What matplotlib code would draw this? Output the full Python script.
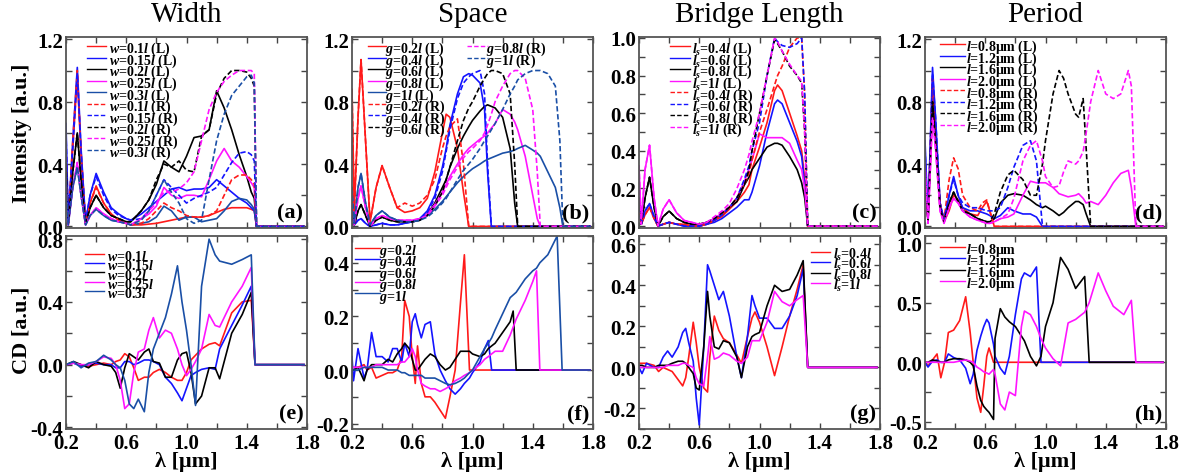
import matplotlib
matplotlib.use('Agg')
import matplotlib.pyplot as plt
from matplotlib.ticker import MultipleLocator, FixedLocator, FormatStrFormatter

plt.rcParams['font.family'] = 'Liberation Serif'
plt.rcParams['font.weight'] = 'bold'
plt.rcParams['mathtext.fontset'] = 'custom'
plt.rcParams['mathtext.it'] = 'Liberation Serif:italic:bold'
plt.rcParams['mathtext.rm'] = 'Liberation Serif:bold'
plt.rcParams['mathtext.bf'] = 'Liberation Serif:bold'
plt.rcParams['axes.unicode_minus'] = False

# ---------------- (a) Width, intensity ----------------
a_x = [0.2, 0.215, 0.245, 0.275, 0.3, 0.33, 0.36, 0.40, 0.45, 0.5,
       0.55, 0.6, 0.63, 0.7, 0.75, 0.8, 0.85, 0.9, 0.95, 1.0,
       1.05, 1.1, 1.15, 1.2, 1.25, 1.3, 1.35, 1.4, 1.43, 1.45,
       1.465, 1.78]
a_w01_L = [0.35, 0.02, 0.50, 0.97, 0.45, 0.02, 0.15, 0.26, 0.15, 0.08,
           0.04, 0.02, 0.01, 0.01, 0.015, 0.02, 0.03, 0.04, 0.05, 0.06,
           0.06, 0.06, 0.07, 0.09, 0.11, 0.12, 0.12, 0.12, 0.11, 0.10,
           0.00, 0.00]
a_w015_L = [0.66, 0.03, 0.55, 1.02, 0.50, 0.03, 0.20, 0.34, 0.22, 0.12,
            0.08, 0.05, 0.04, 0.08, 0.12, 0.16, 0.20, 0.24, 0.25, 0.23,
            0.24, 0.24, 0.25, 0.30, 0.26, 0.22, 0.18, 0.15, 0.12, 0.10,
            0.00, 0.00]
a_w02_L = [0.40, 0.02, 0.35, 0.60, 0.30, 0.02, 0.12, 0.20, 0.12, 0.07,
           0.05, 0.03, 0.03, 0.10, 0.17, 0.27, 0.42, 0.38, 0.35, 0.45,
           0.57, 0.58, 0.62, 0.87, 0.76, 0.62, 0.46, 0.32, 0.22, 0.18,
           0.00, 0.00]
a_w025_L = [0.30, 0.01, 0.25, 0.41, 0.20, 0.01, 0.07, 0.12, 0.08, 0.05,
            0.03, 0.02, 0.01, 0.05, 0.08, 0.13, 0.25, 0.20, 0.18, 0.20,
            0.20, 0.19, 0.30, 0.42, 0.50, 0.42, 0.38, 0.32, 0.28, 0.25,
            0.00, 0.00]
a_w03_L = [0.30, 0.01, 0.25, 0.38, 0.20, 0.01, 0.07, 0.11, 0.07, 0.04,
           0.03, 0.02, 0.01, 0.02, 0.03, 0.06, 0.13, 0.10, 0.04, 0.06,
           0.06, 0.03, 0.04, 0.05, 0.10, 0.16, 0.18, 0.17, 0.14, 0.11,
           0.00, 0.00]
a_w01_R = [0.50, 0.02, 0.55, 1.00, 0.48, 0.02, 0.15, 0.25, 0.15, 0.08,
           0.04, 0.02, 0.01, 0.02, 0.05, 0.10, 0.15, 0.12, 0.10, 0.07,
           0.06, 0.06, 0.07, 0.10, 0.20, 0.30, 0.33, 0.33, 0.30, 0.27,
           0.00, 0.00]
a_w015_R = [0.60, 0.03, 0.50, 0.98, 0.48, 0.03, 0.20, 0.32, 0.20, 0.11,
            0.07, 0.05, 0.04, 0.05, 0.10, 0.20, 0.30, 0.25, 0.20, 0.15,
            0.18, 0.20, 0.22, 0.25, 0.33, 0.41, 0.47, 0.48, 0.46, 0.42,
            0.00, 0.00]
a_w02_R = [0.40, 0.02, 0.35, 0.60, 0.30, 0.02, 0.12, 0.20, 0.12, 0.07,
           0.05, 0.03, 0.03, 0.10, 0.17, 0.30, 0.40, 0.38, 0.42, 0.36,
           0.35, 0.58, 0.62, 0.85, 0.95, 1.00, 1.00, 0.99, 0.95, 0.90,
           0.00, 0.00]
a_w025_R = [0.30, 0.01, 0.25, 0.41, 0.20, 0.01, 0.07, 0.12, 0.08, 0.05,
            0.03, 0.02, 0.01, 0.05, 0.10, 0.15, 0.22, 0.22, 0.24, 0.28,
            0.35, 0.55, 0.75, 0.86, 0.93, 0.97, 1.00, 1.00, 1.00, 0.98,
            0.00, 0.00]
a_w03_R = [0.30, 0.01, 0.25, 0.38, 0.20, 0.01, 0.07, 0.11, 0.07, 0.04,
           0.03, 0.02, 0.01, 0.04, 0.10, 0.20, 0.30, 0.22, 0.15, 0.05,
           0.02, 0.04, 0.30, 0.55, 0.72, 0.84, 0.90, 0.96, 0.97, 0.92,
           0.00, 0.00]

# ---------------- (b) Space, intensity ----------------
b_x = [0.2, 0.215, 0.24, 0.26, 0.29, 0.32, 0.36, 0.4, 0.45, 0.5,
       0.55, 0.6, 0.65, 0.7, 0.75, 0.8, 0.825, 0.85, 0.9, 0.94,
       0.975, 1.0, 1.05, 1.08, 1.1, 1.125, 1.15, 1.2, 1.25, 1.28,
       1.3, 1.35, 1.4, 1.43, 1.45, 1.5, 1.55, 1.58, 1.6, 1.78]
b_g02_L = [0.88, 0.10, 0.70, 1.07, 0.55, 0.03, 0.25, 0.39, 0.25, 0.12,
           0.09, 0.10, 0.12, 0.18, 0.35, 0.60, 0.72, 0.70, 0.50, 0.22,
           0.00, 0.00, 0.00, 0.00, 0.00, 0.00, 0.00, 0.00, 0.00, 0.00,
           0.00, 0.00, 0.00, 0.00, 0.00, 0.00, 0.00, 0.00, 0.00, 0.00]
b_g04_L = [0.10, 0.01, 0.04, 0.05, 0.02, 0.00, 0.01, 0.02, 0.01, 0.01,
           0.02, 0.03, 0.05, 0.10, 0.20, 0.38, 0.50, 0.65, 0.85, 0.96,
           0.98, 0.97, 0.92, 0.75, 0.35, 0.00, 0.00, 0.00, 0.00, 0.00,
           0.00, 0.00, 0.00, 0.00, 0.00, 0.00, 0.00, 0.00, 0.00, 0.00]
b_g06_L = [0.10, 0.01, 0.10, 0.14, 0.07, 0.00, 0.04, 0.06, 0.04, 0.03,
           0.03, 0.03, 0.04, 0.08, 0.15, 0.25, 0.30, 0.38, 0.50, 0.58,
           0.64, 0.68, 0.74, 0.77, 0.78, 0.77, 0.76, 0.70, 0.50, 0.15,
           0.00, 0.00, 0.00, 0.00, 0.00, 0.00, 0.00, 0.00, 0.00, 0.00]
b_g08_L = [0.20, 0.01, 0.18, 0.26, 0.12, 0.00, 0.05, 0.07, 0.05, 0.04,
           0.04, 0.04, 0.05, 0.08, 0.14, 0.22, 0.27, 0.32, 0.40, 0.46,
           0.50, 0.52, 0.56, 0.58, 0.60, 0.63, 0.66, 0.75, 0.72, 0.67,
           0.62, 0.45, 0.20, 0.05, 0.00, 0.00, 0.00, 0.00, 0.00, 0.00]
b_g10_L = [0.25, 0.02, 0.25, 0.34, 0.15, 0.01, 0.07, 0.10, 0.06, 0.04,
           0.03, 0.03, 0.04, 0.07, 0.11, 0.16, 0.19, 0.22, 0.28, 0.32,
           0.35, 0.37, 0.40, 0.42, 0.43, 0.44, 0.45, 0.47, 0.48, 0.49,
           0.50, 0.52, 0.49, 0.47, 0.45, 0.35, 0.25, 0.12, 0.00, 0.00]
b_g02_R = [0.88, 0.10, 0.70, 1.07, 0.55, 0.03, 0.25, 0.39, 0.25, 0.12,
           0.15, 0.13, 0.15, 0.20, 0.30, 0.50, 0.58, 0.64, 0.69, 0.40,
           0.00, 0.00, 0.00, 0.00, 0.00, 0.00, 0.00, 0.00, 0.00, 0.00,
           0.00, 0.00, 0.00, 0.00, 0.00, 0.00, 0.00, 0.00, 0.00, 0.00]
b_g04_R = [0.10, 0.01, 0.04, 0.05, 0.02, 0.00, 0.01, 0.02, 0.01, 0.01,
           0.02, 0.03, 0.05, 0.09, 0.18, 0.35, 0.48, 0.62, 0.82, 0.92,
           0.96, 0.98, 1.00, 0.85, 0.40, 0.00, 0.00, 0.00, 0.00, 0.00,
           0.00, 0.00, 0.00, 0.00, 0.00, 0.00, 0.00, 0.00, 0.00, 0.00]
b_g06_R = [0.10, 0.01, 0.10, 0.14, 0.07, 0.00, 0.04, 0.06, 0.04, 0.03,
           0.03, 0.03, 0.04, 0.07, 0.13, 0.22, 0.30, 0.38, 0.55, 0.68,
           0.76, 0.80, 0.90, 0.95, 0.98, 1.00, 1.00, 0.98, 0.85, 0.40,
           0.00, 0.00, 0.00, 0.00, 0.00, 0.00, 0.00, 0.00, 0.00, 0.00]
b_g08_R = [0.20, 0.01, 0.18, 0.26, 0.12, 0.00, 0.05, 0.07, 0.05, 0.04,
           0.04, 0.04, 0.05, 0.07, 0.13, 0.20, 0.25, 0.30, 0.38, 0.44,
           0.48, 0.50, 0.55, 0.60, 0.65, 0.72, 0.80, 0.90, 0.98, 1.00,
           1.00, 0.95, 0.75, 0.35, 0.00, 0.00, 0.00, 0.00, 0.00, 0.00]
b_g10_R = [0.25, 0.02, 0.25, 0.34, 0.15, 0.01, 0.07, 0.10, 0.06, 0.04,
           0.03, 0.03, 0.04, 0.06, 0.10, 0.15, 0.18, 0.22, 0.30, 0.36,
           0.40, 0.43, 0.50, 0.55, 0.58, 0.62, 0.66, 0.75, 0.85, 0.90,
           0.94, 0.98, 1.00, 1.00, 1.00, 0.98, 0.90, 0.55, 0.00, 0.00]

# ---------------- (c) Bridge length, intensity ----------------
c_x = [0.2, 0.215, 0.24, 0.27, 0.3, 0.326, 0.36, 0.4, 0.45, 0.5,
       0.55, 0.6, 0.65, 0.7, 0.75, 0.8, 0.85, 0.9, 0.93, 0.95,
       1.0, 1.05, 1.1, 1.12, 1.15, 1.2, 1.25, 1.28, 1.3, 1.32,
       1.78]
c_ls04_L = [0.08, 0.01, 0.06, 0.10, 0.04, 0.00, 0.01, 0.02, 0.01, 0.01,
            0.00, 0.00, 0.01, 0.03, 0.05, 0.09, 0.13, 0.18, 0.22, 0.30,
            0.42, 0.55, 0.72, 0.75, 0.72, 0.60, 0.48, 0.40, 0.25, 0.00,
            0.00]
c_ls06_L = [0.10, 0.01, 0.08, 0.12, 0.05, 0.00, 0.01, 0.02, 0.01, 0.00,
            0.00, 0.00, 0.01, 0.02, 0.04, 0.07, 0.10, 0.14, 0.14, 0.18,
            0.32, 0.50, 0.65, 0.67, 0.65, 0.55, 0.45, 0.37, 0.22, 0.00,
            0.00]
c_ls08_L = [0.15, 0.01, 0.15, 0.26, 0.10, 0.00, 0.05, 0.08, 0.04, 0.02,
            0.01, 0.01, 0.02, 0.04, 0.06, 0.10, 0.13, 0.22, 0.26, 0.30,
            0.36, 0.42, 0.44, 0.44, 0.43, 0.37, 0.30, 0.23, 0.15, 0.00,
            0.00]
c_ls10_L = [0.32, 0.01, 0.30, 0.43, 0.15, 0.00, 0.09, 0.14, 0.07, 0.03,
            0.02, 0.01, 0.02, 0.04, 0.07, 0.10, 0.15, 0.24, 0.30, 0.35,
            0.49, 0.47, 0.47, 0.47, 0.47, 0.44, 0.35, 0.30, 0.20, 0.00,
            0.00]
c_ls04_R = [0.08, 0.01, 0.06, 0.10, 0.04, 0.00, 0.01, 0.02, 0.01, 0.01,
            0.00, 0.00, 0.01, 0.03, 0.06, 0.10, 0.15, 0.22, 0.28, 0.35,
            0.50, 0.62, 0.75, 0.80, 0.85, 0.95, 1.00, 1.00, 0.70, 0.00,
            0.00]
c_ls06_R = [0.10, 0.01, 0.08, 0.12, 0.05, 0.00, 0.01, 0.02, 0.01, 0.00,
            0.00, 0.00, 0.01, 0.03, 0.06, 0.10, 0.15, 0.25, 0.32, 0.40,
            0.55, 0.80, 1.00, 0.98, 0.96, 0.95, 0.97, 1.00, 0.70, 0.00,
            0.00]
c_ls08_R = [0.15, 0.01, 0.15, 0.26, 0.10, 0.00, 0.05, 0.08, 0.04, 0.02,
            0.01, 0.01, 0.02, 0.04, 0.07, 0.10, 0.15, 0.22, 0.30, 0.40,
            0.60, 0.80, 0.99, 0.97, 0.93, 0.85, 0.80, 0.76, 0.50, 0.00,
            0.00]
c_ls10_R = [0.32, 0.01, 0.30, 0.43, 0.15, 0.00, 0.09, 0.14, 0.07, 0.03,
            0.02, 0.01, 0.02, 0.05, 0.08, 0.12, 0.20, 0.30, 0.38, 0.45,
            0.60, 0.80, 1.00, 0.98, 0.93, 0.86, 0.80, 0.77, 0.50, 0.00,
            0.00]

# ---------------- (d) Period, intensity ----------------
d_x = [0.2, 0.22, 0.25, 0.27, 0.3, 0.326, 0.36, 0.39, 0.42, 0.45,
       0.5, 0.55, 0.58, 0.61, 0.63, 0.66, 0.7, 0.75, 0.79, 0.85,
       0.9, 0.94, 0.98, 1.0, 1.05, 1.09, 1.12, 1.15, 1.2, 1.22,
       1.25, 1.27, 1.3, 1.35, 1.4, 1.45, 1.5, 1.55, 1.57, 1.6,
       1.78]
d_p08_L = [0.40, 0.05, 0.90, 0.60, 0.15, 0.03, 0.10, 0.20, 0.17, 0.12,
           0.08, 0.07, 0.12, 0.16, 0.10, 0.00, 0.00, 0.00, 0.00, 0.00,
           0.00, 0.00, 0.00, 0.00, 0.00, 0.00, 0.00, 0.00, 0.00, 0.00,
           0.00, 0.00, 0.00, 0.00, 0.00, 0.00, 0.00, 0.00, 0.00, 0.00,
           0.00]
d_p12_L = [0.55, 0.05, 1.02, 0.70, 0.15, 0.04, 0.20, 0.32, 0.20, 0.12,
           0.10, 0.10, 0.09, 0.08, 0.07, 0.05, 0.07, 0.12, 0.10, 0.08,
           0.08, 0.06, 0.00, 0.00, 0.00, 0.00, 0.00, 0.00, 0.00, 0.00,
           0.00, 0.00, 0.00, 0.00, 0.00, 0.00, 0.00, 0.00, 0.00, 0.00,
           0.00]
d_p16_L = [0.30, 0.03, 0.80, 0.55, 0.12, 0.03, 0.15, 0.22, 0.16, 0.10,
           0.08, 0.05, 0.04, 0.03, 0.03, 0.05, 0.15, 0.20, 0.21, 0.20,
           0.17, 0.14, 0.12, 0.13, 0.10, 0.07, 0.09, 0.12, 0.16, 0.16,
           0.14, 0.08, 0.00, 0.00, 0.00, 0.00, 0.00, 0.00, 0.00, 0.00,
           0.00]
d_p20_L = [0.40, 0.02, 0.70, 0.50, 0.10, 0.02, 0.12, 0.18, 0.15, 0.10,
           0.06, 0.04, 0.03, 0.02, 0.02, 0.03, 0.05, 0.06, 0.08, 0.20,
           0.29, 0.28, 0.28, 0.28, 0.25, 0.21, 0.20, 0.19, 0.20, 0.21,
           0.18, 0.15, 0.16, 0.14, 0.20, 0.28, 0.34, 0.36, 0.25, 0.00,
           0.00]
d_p08_R = [0.40, 0.05, 0.95, 0.60, 0.15, 0.04, 0.30, 0.44, 0.37, 0.20,
           0.12, 0.10, 0.15, 0.17, 0.10, 0.00, 0.00, 0.00, 0.00, 0.00,
           0.00, 0.00, 0.00, 0.00, 0.00, 0.00, 0.00, 0.00, 0.00, 0.00,
           0.00, 0.00, 0.00, 0.00, 0.00, 0.00, 0.00, 0.00, 0.00, 0.00,
           0.00]
d_p12_R = [0.50, 0.05, 0.98, 0.70, 0.15, 0.04, 0.20, 0.30, 0.20, 0.15,
           0.12, 0.12, 0.11, 0.10, 0.10, 0.10, 0.12, 0.25, 0.38, 0.52,
           0.55, 0.42, 0.00, 0.00, 0.00, 0.00, 0.00, 0.00, 0.00, 0.00,
           0.00, 0.00, 0.00, 0.00, 0.00, 0.00, 0.00, 0.00, 0.00, 0.00,
           0.00]
d_p16_R = [0.30, 0.03, 0.80, 0.55, 0.12, 0.03, 0.15, 0.22, 0.16, 0.10,
           0.08, 0.05, 0.04, 0.03, 0.03, 0.08, 0.22, 0.33, 0.36, 0.30,
           0.20, 0.20, 0.40, 0.55, 0.85, 1.00, 0.95, 0.85, 0.72, 0.70,
           0.82, 0.50, 0.00, 0.00, 0.00, 0.00, 0.00, 0.00, 0.00, 0.00,
           0.00]
d_p20_R = [0.40, 0.02, 0.70, 0.50, 0.10, 0.02, 0.12, 0.18, 0.15, 0.10,
           0.06, 0.04, 0.03, 0.02, 0.02, 0.03, 0.05, 0.08, 0.18, 0.42,
           0.52, 0.55, 0.42, 0.32, 0.25, 0.26, 0.35, 0.42, 0.40, 0.42,
           0.48, 0.60, 0.80, 1.00, 0.85, 0.82, 0.85, 1.00, 0.90, 0.00,
           0.00]

# ---------------- (e) Width, CD ----------------
e_x = [0.2, 0.25, 0.3, 0.35, 0.4, 0.45, 0.5, 0.53, 0.56, 0.59,
       0.62, 0.65, 0.68, 0.72, 0.75, 0.78, 0.82, 0.86, 0.9, 0.94,
       0.97, 1.0, 1.03, 1.06, 1.1, 1.15, 1.19, 1.22, 1.3, 1.37,
       1.43, 1.455, 1.78]
e_w01 = [0.00, 0.01, 0.00, -0.01, 0.00, 0.01, 0.00, 0.02, 0.03, 0.07,
         0.05, -0.02, -0.10, -0.08, -0.08, -0.05, -0.03, -0.05, -0.08, -0.10,
         -0.10, -0.05, 0.03, 0.06, 0.10, 0.13, 0.14, 0.12, 0.33, 0.40,
         0.41, 0.00, 0.00]
e_w015 = [0.00, 0.01, -0.01, 0.00, 0.01, 0.00, 0.00, -0.02, -0.02, 0.02,
          0.02, 0.00, 0.01, 0.03, 0.03, 0.02, 0.00, -0.08, -0.12, -0.18,
          -0.23, -0.15, -0.07, -0.05, -0.03, -0.02, -0.03, 0.10, 0.25, 0.38,
          0.50, 0.00, 0.00]
e_w02 = [0.00, 0.02, 0.00, -0.02, 0.02, 0.00, -0.01, -0.05, -0.15, -0.02,
         0.07, 0.05, 0.03, 0.08, 0.10, 0.02, 0.01, -0.08, -0.08, 0.03,
         0.07, 0.08, -0.05, -0.25, -0.20, -0.02, -0.02, -0.09, 0.20, 0.32,
         0.46, 0.00, 0.00]
e_w025 = [0.00, 0.01, 0.00, 0.00, 0.02, 0.05, 0.04, 0.00, -0.10, -0.28,
          -0.25, -0.05, 0.08, 0.10, 0.22, 0.30, 0.17, 0.22, 0.20, 0.10,
          0.00, -0.07, -0.03, 0.02, 0.10, 0.32, 0.25, 0.24, 0.40, 0.50,
          0.62, 0.00, 0.00]
e_w03 = [0.00, 0.02, -0.02, 0.01, 0.02, 0.06, 0.03, 0.00, -0.02, -0.10,
         -0.25, -0.28, -0.22, -0.30, -0.05, 0.10, 0.20, 0.30, 0.45, 0.63,
         0.40, 0.22, 0.00, -0.26, 0.50, 0.80, 0.70, 0.66, 0.64, 0.67,
         0.70, 0.00, 0.00]

# ---------------- (f) Space, CD ----------------
f_x = [0.2, 0.21, 0.24, 0.28, 0.3, 0.33, 0.36, 0.4, 0.44, 0.47,
       0.5, 0.53, 0.55, 0.58, 0.6, 0.62, 0.635, 0.66, 0.685, 0.72,
       0.75, 0.785, 0.82, 0.85, 0.885, 0.92, 0.946, 0.98, 1.0, 1.05,
       1.08, 1.105, 1.127, 1.15, 1.2, 1.25, 1.27, 1.29, 1.35, 1.4,
       1.425, 1.447, 1.5, 1.562, 1.595, 1.78]
f_g02 = [0.01, 0.01, 0.01, 0.02, 0.00, 0.01, -0.03, -0.02, -0.01, -0.01,
         0.00, 0.05, 0.26, 0.20, 0.05, -0.05, 0.09, -0.05, -0.10, -0.10,
         -0.12, -0.15, -0.18, -0.10, 0.00, 0.25, 0.43, 0.00, 0.00, 0.00,
         0.00, 0.00, 0.00, 0.00, 0.00, 0.00, 0.00, 0.00, 0.00, 0.00,
         0.00, 0.00, 0.00, 0.00, 0.00, 0.00]
f_g04 = [0.05, -0.04, 0.08, -0.03, 0.00, 0.14, 0.05, 0.05, 0.03, 0.08,
         0.08, 0.03, 0.10, 0.05, 0.18, 0.21, 0.17, 0.12, 0.17, 0.18,
         0.06, 0.00, -0.04, -0.07, -0.09, -0.07, -0.05, -0.03, -0.01, 0.03,
         0.08, 0.11, 0.00, 0.00, 0.00, 0.00, 0.00, 0.00, 0.00, 0.00,
         0.00, 0.00, 0.00, 0.00, 0.00, 0.00]
f_g06 = [0.00, 0.00, 0.01, -0.04, 0.00, 0.02, 0.02, 0.02, 0.04, 0.03,
         0.06, 0.08, 0.10, 0.08, 0.04, 0.00, 0.00, 0.02, 0.04, 0.06,
         0.05, 0.02, 0.00, 0.01, 0.04, 0.07, 0.07, 0.07, 0.06, 0.05,
         0.06, 0.08, 0.09, 0.10, 0.14, 0.18, 0.22, 0.00, 0.00, 0.00,
         0.00, 0.00, 0.00, 0.00, 0.00, 0.00]
f_g08 = [0.01, 0.01, 0.01, 0.01, 0.01, 0.01, 0.02, 0.02, 0.02, 0.02,
         0.02, 0.03, 0.03, 0.05, 0.08, 0.05, 0.00, -0.05, -0.06, -0.07,
         -0.07, -0.08, -0.07, -0.06, -0.04, -0.03, -0.02, -0.01, 0.00, 0.02,
         0.04, 0.05, 0.06, 0.07, 0.07, 0.13, 0.16, 0.19, 0.26, 0.33,
         0.37, 0.00, 0.00, 0.00, 0.00, 0.00]
f_g10 = [0.00, 0.00, 0.00, 0.01, 0.01, 0.01, 0.01, 0.01, 0.00, 0.00,
         0.00, -0.01, -0.01, -0.02, -0.02, -0.02, -0.02, -0.02, -0.03, -0.03,
         -0.03, -0.04, -0.05, -0.055, -0.05, -0.04, -0.03, -0.01, 0.00, 0.05,
         0.08, 0.10, 0.12, 0.15, 0.21, 0.27, 0.28, 0.29, 0.34, 0.37,
         0.38, 0.40, 0.43, 0.50, 0.00, 0.00]

# ---------------- (g) Bridge length, CD ----------------
g_x = [0.2, 0.22, 0.25, 0.3, 0.33, 0.36, 0.39, 0.42, 0.46, 0.49,
       0.51, 0.53, 0.56, 0.58, 0.6, 0.63, 0.655, 0.67, 0.7, 0.73,
       0.76, 0.8, 0.85, 0.88, 0.92, 0.95, 0.97, 1.0, 1.05, 1.1,
       1.15, 1.2, 1.25, 1.29, 1.32, 1.78]
g_ls04 = [0.02, 0.02, 0.02, 0.01, -0.02, 0.00, -0.01, -0.02, -0.06, -0.09,
          -0.05, 0.05, 0.22, 0.12, 0.00, -0.10, -0.12, 0.05, 0.25, 0.18,
          0.14, 0.12, 0.06, 0.02, 0.15, 0.24, 0.27, 0.22, 0.10, -0.04,
          0.10, 0.25, 0.38, 0.50, 0.00, 0.00]
g_ls06 = [0.00, -0.03, 0.02, 0.00, 0.00, 0.05, 0.08, 0.05, 0.10, 0.17,
          0.19, 0.12, 0.03, -0.15, -0.28, 0.10, 0.50, 0.47, 0.40, 0.33,
          0.37, 0.25, 0.05, -0.05, 0.15, 0.35, 0.30, 0.24, 0.24, 0.19,
          0.19, 0.25, 0.35, 0.48, 0.00, 0.00]
g_ls08 = [0.01, 0.01, 0.00, 0.00, 0.01, 0.01, 0.01, 0.02, 0.03, 0.03,
          0.02, 0.00, -0.03, -0.10, -0.11, 0.10, 0.37, 0.25, 0.10, 0.09,
          0.13, 0.12, 0.05, -0.05, 0.10, 0.15, 0.16, 0.17, 0.30, 0.40,
          0.37, 0.38, 0.45, 0.52, 0.00, 0.00]
g_ls10 = [0.00, 0.00, 0.00, 0.00, 0.00, 0.00, 0.01, 0.01, 0.01, 0.02,
          0.02, 0.01, 0.00, -0.05, -0.08, -0.09, 0.05, 0.15, 0.04, 0.05,
          0.07, 0.06, 0.03, 0.02, 0.05, 0.13, 0.13, 0.13, 0.22, 0.37,
          0.32, 0.30, 0.33, 0.35, 0.00, 0.00]

# ---------------- (h) Period, CD ----------------
h_x = [0.2, 0.22, 0.25, 0.28, 0.305, 0.33, 0.355, 0.39, 0.43, 0.47,
       0.5, 0.52, 0.545, 0.57, 0.59, 0.61, 0.625, 0.655, 0.665, 0.7,
       0.73, 0.76, 0.8, 0.84, 0.86, 0.9, 0.94, 0.97, 1.0, 1.05,
       1.1, 1.15, 1.2, 1.26, 1.29, 1.35, 1.4, 1.45, 1.52, 1.57,
       1.6, 1.78]
h_p08 = [0.00, -0.03, 0.02, 0.07, -0.13, 0.00, 0.25, 0.27, 0.35, 0.55,
         0.25, 0.00, -0.30, -0.42, -0.20, 0.05, 0.12, 0.00, 0.00, 0.00,
         0.00, 0.00, 0.00, 0.00, 0.00, 0.00, 0.00, 0.00, 0.00, 0.00,
         0.00, 0.00, 0.00, 0.00, 0.00, 0.00, 0.00, 0.00, 0.00, 0.00,
         0.00, 0.00]
h_p12 = [0.00, -0.04, 0.01, 0.02, 0.00, 0.00, 0.07, 0.04, 0.02, -0.05,
         -0.18, -0.10, 0.10, 0.22, 0.30, 0.36, 0.33, 0.15, 0.05, -0.05,
         -0.10, 0.05, 0.40, 0.70, 0.75, 0.72, 0.80, 0.00, 0.00, 0.00,
         0.00, 0.00, 0.00, 0.00, 0.00, 0.00, 0.00, 0.00, 0.00, 0.00,
         0.00, 0.00]
h_p16 = [0.00, 0.00, 0.02, 0.01, 0.00, 0.00, 0.02, 0.03, 0.03, 0.02,
         0.00, -0.03, -0.20, -0.32, -0.37, -0.40, -0.42, -0.48, 0.20, 0.45,
         0.38, 0.34, 0.30, 0.22, 0.18, 0.05, -0.03, 0.05, 0.30, 0.50,
         0.88, 0.78, 0.62, 0.72, 0.00, 0.00, 0.00, 0.00, 0.00, 0.00,
         0.00, 0.00]
h_p20 = [0.00, 0.00, 0.00, 0.00, 0.00, 0.00, 0.00, 0.00, 0.01, 0.02,
         0.01, 0.00, -0.04, -0.06, -0.08, -0.09, -0.10, -0.06, -0.10, -0.35,
         -0.40, -0.25, -0.28, 0.30, 0.43, 0.40, 0.30, 0.20, 0.12, 0.03,
         -0.03, 0.33, 0.36, 0.42, 0.50, 0.75, 0.60, 0.47, 0.40, 0.52,
         0.00, 0.00]

# labels
w_vals = ['0.1', '0.15', '0.2', '0.25', '0.3']
g_vals = ['0.2', '0.4', '0.6', '0.8', '1']
ls_vals = ['0.4', '0.6', '0.8', '1']
p_vals = ['0.8', '1.2', '1.6', '2.0']
titles = ['Width', 'Space', 'Bridge Length', 'Period']

RED, BLUE, BLACK, MAG, ROYAL = '#ff1a1a', '#1414ff', '#000000', '#ff14ff', '#1a4fa6'
cols5 = [RED, BLUE, BLACK, MAG, ROYAL]
DASH = (0, (3.2, 1.6))
LW = 1.2
LEG_FS = 10

W, H = 1179, 477
fig = plt.figure(figsize=(W / 100, H / 100), dpi=100)
lefts = [66, 352, 639, 925]
AXW = 241


def make_ax(col, top, bottom):
    return fig.add_axes([lefts[col] / W, 1 - bottom / H, AXW / W, (bottom - top) / H])


def setup(ax, ylim, major, minor, fmt, show_x, tag):
    ax.set_xlim(0.2, 1.8)
    ax.set_ylim(*ylim)
    ax.xaxis.set_major_locator(FixedLocator([0.2, 0.6, 1.0, 1.4, 1.8]))
    ax.xaxis.set_minor_locator(FixedLocator([0.4, 0.8, 1.2, 1.6]))
    ax.xaxis.set_major_formatter(FormatStrFormatter('%.1f'))
    ax.yaxis.set_major_locator(MultipleLocator(major))
    ax.yaxis.set_minor_locator(MultipleLocator(minor))
    ax.yaxis.set_major_formatter(FormatStrFormatter(fmt))
    ax.tick_params(which='both', direction='in', top=True, right=True,
                   labelsize=15, pad=2, length=4, width=1, color='#444444')
    ax.tick_params(axis='x', pad=3)
    if not show_x:
        ax.tick_params(labelbottom=False)
    for s in ax.spines.values():
        s.set_color('#555555')
        s.set_linewidth(1.3)
    ax.text(0.985, 0.03, tag, transform=ax.transAxes, ha='right', va='bottom',
            fontsize=16, fontweight='bold')


def legend(ax, handles, labels, anchor, loc='upper left', tpad=0.2, hlen=1.4):
    # tall handle box keeps every row the same height, about 11 px apart
    leg = ax.legend(handles, labels, loc=loc, bbox_to_anchor=anchor, frameon=False,
                    fontsize=LEG_FS, handleheight=1.3, labelspacing=-0.42,
                    handlelength=hlen, handletextpad=tpad, borderpad=0, borderaxespad=0)
    for ln in leg.get_lines():
        ln.set_linewidth(1.0)
    return leg


# ---- top row ----
ax_a = make_ax(0, 38, 229)
hs = []
for y, c in zip([a_w01_L, a_w015_L, a_w02_L, a_w025_L, a_w03_L], cols5):
    hs += ax_a.plot(a_x, y, color=c, lw=LW)
for y, c in zip([a_w01_R, a_w015_R, a_w02_R, a_w025_R, a_w03_R], cols5):
    hs += ax_a.plot(a_x, y, color=c, lw=LW, ls=DASH)
labs = [r'$w$=' + v + r'$l$ (L)' for v in w_vals] + [r'$w$=' + v + r'$l$ (R)' for v in w_vals]
legend(ax_a, hs, labs, (0.087, 0.985))
setup(ax_a, (-0.01, 1.215), 0.4, 0.2, '%.1f', False, '(a)')

ax_b = make_ax(1, 38, 229)
hs = []
for y, c in zip([b_g02_L, b_g04_L, b_g06_L, b_g08_L, b_g10_L], cols5):
    hs += ax_b.plot(b_x, y, color=c, lw=LW)
for y, c in zip([b_g02_R, b_g04_R, b_g06_R, b_g08_R, b_g10_R], cols5):
    hs += ax_b.plot(b_x, y, color=c, lw=LW, ls=DASH)
labs = [r'$g$=' + v + r'$l$ (L)' for v in g_vals] + [r'$g$=' + v + r'$l$ (R)' for v in g_vals]
leg1 = legend(ax_b, hs[:8], labs[:8], (0.066, 0.985), tpad=-0.1, hlen=1.3)
ax_b.add_artist(leg1)
legend(ax_b, hs[8:], labs[8:], (0.477, 0.985), tpad=-0.1, hlen=1.5)
setup(ax_b, (-0.01, 1.215), 0.4, 0.2, '%.1f', False, '(b)')

ax_c = make_ax(2, 38, 229)
hs = []
for y, c in zip([c_ls04_L, c_ls06_L, c_ls08_L, c_ls10_L], cols5):
    hs += ax_c.plot(c_x, y, color=c, lw=LW)
for y, c in zip([c_ls04_R, c_ls06_R, c_ls08_R, c_ls10_R], cols5):
    hs += ax_c.plot(c_x, y, color=c, lw=LW, ls=DASH)
labs = [r'$l_s$=' + v + r'$l$ (L)' for v in ls_vals] + [r'$l_s$=' + v + r'$l$ (R)' for v in ls_vals]
legend(ax_c, hs, labs, (0.129, 0.985))
setup(ax_c, (-0.01, 1.005), 0.2, 0.1, '%.1f', False, '(c)')

ax_d = make_ax(3, 38, 229)
hs = []
for y, c in zip([d_p08_L, d_p12_L, d_p16_L, d_p20_L], cols5):
    hs += ax_d.plot(d_x, y, color=c, lw=LW)
for y, c in zip([d_p08_R, d_p12_R, d_p16_R, d_p20_R], cols5):
    hs += ax_d.plot(d_x, y, color=c, lw=LW, ls=DASH)
labs = [r'$l$=' + v + 'μm (L)' for v in p_vals] + [r'$l$=' + v + 'μm (R)' for v in p_vals]
legend(ax_d, hs, labs, (0.062, 0.995), tpad=0.1, hlen=1.8)
setup(ax_d, (-0.01, 1.215), 0.4, 0.2, '%.1f', False, '(d)')

# ---- bottom row ----
ax_e = make_ax(0, 237, 430)
hs = []
for y, c in zip([e_w01, e_w015, e_w02, e_w025, e_w03], cols5):
    hs += ax_e.plot(e_x, y, color=c, lw=LW)
legend(ax_e, hs, [r'$w$=' + v + r'$l$' for v in w_vals], (0.079, 0.94))
setup(ax_e, (-0.41, 0.82), 0.4, 0.2, '%.1f', True, '(e)')

ax_f = make_ax(1, 237, 430)
hs = []
for y, c in zip([f_g02, f_g04, f_g06, f_g08, f_g10], cols5):
    hs += ax_f.plot(f_x, y, color=c, lw=LW)
legend(ax_f, hs, [r'$g$=' + v + r'$l$' for v in g_vals], (0.012, 0.97), tpad=-0.1, hlen=1.8)
setup(ax_f, (-0.22, 0.5), 0.2, 0.1, '%.1f', True, '(f)')

ax_g = make_ax(2, 237, 430)
hs = []
for y, c in zip([g_ls04, g_ls06, g_ls08, g_ls10], cols5):
    hs += ax_g.plot(g_x, y, color=c, lw=LW)
legend(ax_g, hs, [r'$l_s$=' + v + r'$l$' for v in ls_vals], (0.967, 0.95), loc='upper right')
setup(ax_g, (-0.3, 0.64), 0.2, 0.1, '%.1f', True, '(g)')

ax_h = make_ax(3, 237, 430)
hs = []
for y, c in zip([h_p08, h_p12, h_p16, h_p20], cols5):
    hs += ax_h.plot(h_x, y, color=c, lw=LW)
legend(ax_h, hs, [r'$l$=' + v + 'μm' for v in p_vals], (0.062, 0.975), tpad=0.1, hlen=1.8)
setup(ax_h, (-0.56, 1.06), 0.5, 0.25, '%.1f', True, '(h)')

# titles and axis labels
for col, t in enumerate(titles):
    cx = (lefts[col] + AXW / 2) / W
    fig.text(cx, 1 - 15 / H, t, ha='center', va='center', fontsize=21, fontweight='normal')
    fig.text(cx, 1 - 462 / H, 'λ [μm]', ha='center', va='center', fontsize=16, fontweight='bold')
fig.text(22 / W, 1 - 133 / H, 'Intensity [a.u.]', rotation=90, ha='center', va='center',
         fontsize=16, fontweight='bold')
fig.text(22 / W, 1 - 330 / H, 'CD [a.u.]', rotation=90, ha='center', va='center',
         fontsize=16, fontweight='bold')

fig.savefig('out.png', dpi=100)
